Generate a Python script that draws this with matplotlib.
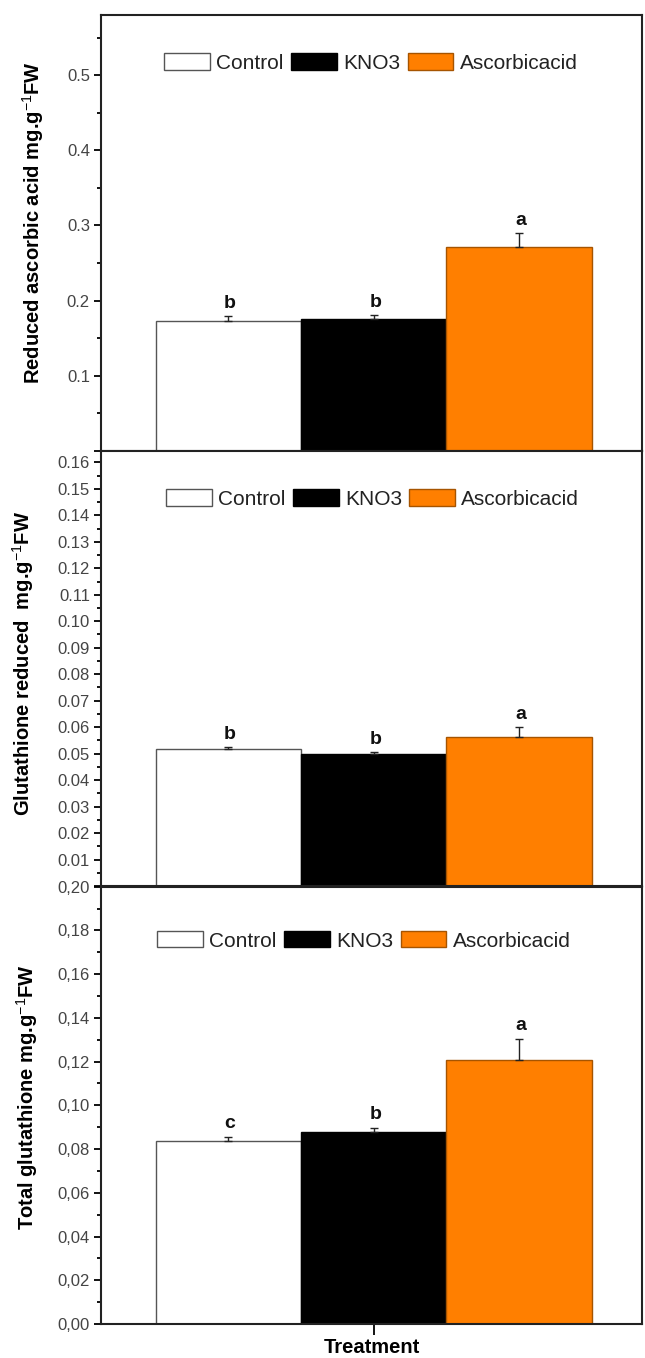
import numpy as np
import matplotlib
matplotlib.use('Agg')
import matplotlib.pyplot as plt
from matplotlib.patches import Patch
from matplotlib.ticker import MultipleLocator, FuncFormatter

plt.rcParams['font.family'] = ['Liberation Sans', 'DejaVu Sans']
plt.rcParams['mathtext.fontset'] = 'custom'
plt.rcParams['mathtext.rm'] = 'Liberation Sans'
plt.rcParams['mathtext.bf'] = 'Liberation Sans:bold'

treatments = ['Control', 'KNO3', 'Ascorbicacid']
bar_colors = ['white', 'black', '#ff7f00']
edge_colors = ['#555555', 'black', '#a65400']

asa_mean = [0.173, 0.175, 0.272]
asa_err = [0.007, 0.006, 0.018]
asa_letters = ['b', 'b', 'a']

gsh_mean = [0.0516, 0.0497, 0.0564]
gsh_err = [0.0009, 0.0009, 0.0036]
gsh_letters = ['b', 'b', 'a']

tg_mean = [0.0838, 0.0878, 0.1206]
tg_err = [0.0019, 0.0020, 0.0099]
tg_letters = ['c', 'b', 'a']

W, H = 645, 1358
fig = plt.figure(figsize=(W / 100, H / 100), dpi=100)

def px_axes(top, bottom, left=101, right=642):
    return fig.add_axes([left / W, (H - bottom) / H, (right - left) / W, (bottom - top) / H])

def draw_panel(ax, means, errs, letters, ylabel, ylim, major, minor, fmt, legend_xy, label_xy):
    x = np.array([-1, 0, 1])
    ax.bar(x, means, width=1.0, color=bar_colors, edgecolor=edge_colors, linewidth=1.0, zorder=2)
    ax.errorbar(x, means, yerr=[[0, 0, 0], errs], fmt='none', ecolor='#222222',
                elinewidth=1.0, capsize=3, capthick=1.0, zorder=3)
    for xi, m, e, let in zip(x, means, errs, letters):
        ax.annotate(let, (xi, m + e), xytext=(1, 3), textcoords='offset points',
                    ha='center', va='bottom', fontsize=14, fontweight='bold', color='#111111')
    ax.set_xlim(-1.875, 1.844)
    ax.set_ylim(*ylim)
    ax.yaxis.set_major_locator(MultipleLocator(major))
    ax.yaxis.set_minor_locator(MultipleLocator(minor))
    ax.yaxis.set_major_formatter(FuncFormatter(fmt))
    ax.tick_params(axis='y', which='major', length=5, width=1.3, labelsize=12, labelcolor='#444444', pad=3)
    ax.tick_params(axis='y', which='minor', length=3, width=1.3)
    for s in ax.spines.values():
        s.set_linewidth(1.5)
        s.set_color('#222222')
    ax.set_ylabel(ylabel, fontsize=14.5, fontweight='bold', va='center')
    ax.yaxis.set_label_coords(*label_xy)
    handles = [Patch(facecolor=c, edgecolor=e, linewidth=1.0) for c, e in zip(bar_colors, edge_colors)]
    ax.legend(handles, treatments, loc='center', bbox_to_anchor=legend_xy, ncol=3, frameon=False,
              fontsize=15, handlelength=2.2, handleheight=0.82, handletextpad=0.3,
              columnspacing=0.35, labelcolor='#222222')

# top panel: reduced ascorbic acid
ax1 = px_axes(15, 451)
draw_panel(ax1, asa_mean, asa_err, asa_letters, 'Reduced ascorbic acid mg.g$^{-1}$FW',
           (0, 0.58), 0.1, 0.05, lambda v, p: '' if v < 0.05 else '%.1f' % v,
           (0.499, 0.89), (-0.126, 0.525))
ax1.set_xticks([])

# middle panel: glutathione reduced
ax2 = px_axes(450.7, 886)
draw_panel(ax2, gsh_mean, gsh_err, gsh_letters, 'Glutathione reduced  mg.g$^{-1}$FW',
           (0, 0.1644), 0.01, 0.005, lambda v, p: '' if v < 0.005 else '%.2f' % v,
           (0.502, 0.889), (-0.145, 0.512))
ax2.set_xticks([])

# bottom panel: total glutathione
ax3 = px_axes(886.7, 1324)
draw_panel(ax3, tg_mean, tg_err, tg_letters, 'Total glutathione mg.g$^{-1}$FW',
           (0, 0.20), 0.02, 0.01, lambda v, p: ('%.2f' % v).replace('.', ','),
           (0.486, 0.876), (-0.137, 0.52))
ax3.set_xticks([0])
ax3.set_xticklabels([''])
ax3.tick_params(axis='x', length=8, width=1.3)
ax3.set_xlabel('Treatment', fontsize=14.5, fontweight='bold', va='center')
ax3.xaxis.set_label_coords(0.5, -0.053)

fig.savefig('out.png', dpi=100)
